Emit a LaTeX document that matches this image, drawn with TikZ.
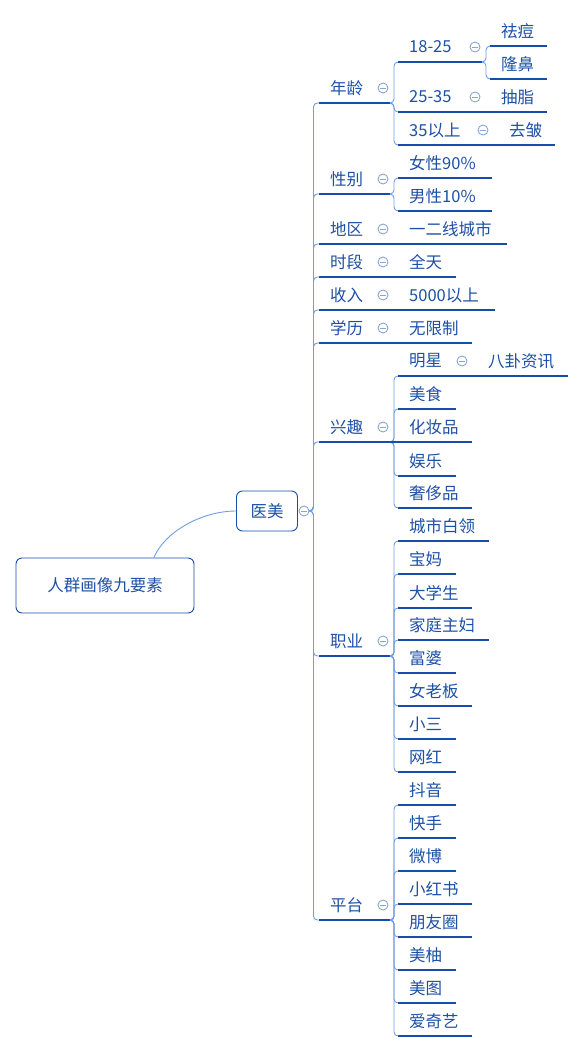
\documentclass[tikz,border=0pt]{standalone}
\usepackage{fontspec}
\setmainfont{Noto Sans CJK SC}
\usepackage{tikz}
\tikzset{>=latex}
\definecolor{linkblue}{RGB}{112,158,226}
\definecolor{lineblue}{RGB}{20,78,170}
\definecolor{textblue}{RGB}{30,80,165}
\definecolor{foldblue}{RGB}{138,165,212}

\begin{document}
\begin{tikzpicture}[x=1pt,y=-1pt,
    box/.style={draw=lineblue,rounded corners=6pt,line width=0.9pt,text=textblue,inner sep=0pt},
    word/.style={text=textblue,inner sep=0pt},
    uline/.style={draw=lineblue,line width=1.1pt},
    conn/.style={draw=linkblue,line width=0.9pt,rounded corners=4pt},
    elbow/.style={to path={-- ++(4,0) |- (\tikztotarget)}},
    fold/.style={circle,draw=foldblue,line width=0.9pt,minimum size=10pt,inner sep=0pt,fill=white,
      path picture={\draw[foldblue,line width=0.9pt]
        ([xshift=-2.8pt]path picture bounding box.center) -- ([xshift=2.8pt]path picture bounding box.center);}}]
  \fontsize{16.5}{20}\selectfont
  \useasboundingbox (0,0) rectangle (585,1052);

  % HELP FUNCTION
  \def\topic(#1,#2,#3,#4,#5){ % name, x left, y line, x right, label
    \coordinate (#1-l) at (#2,#3);
    \coordinate (#1-r) at (#4,#3);
    \draw[uline] (#1-l) -- (#1-r);
    \node[word,anchor=west] (#1) at (#2+11,#3-15) {#5};
  }
  \def\fold(#1){\node[fold] (#1-f) at ([shift={(-7,-15)}]#1-r) {};}

  % ROOT
  \node[box,minimum width=178pt,minimum height=55pt] (root) at (105,585.5) {人群画像九要素};
  \node[box,minimum width=61pt,minimum height=40pt] (yimei) at (267,511) {医美};
  \draw[conn] ([xshift=49pt]root.north) .. controls +(10,-25) and +(-35,0) .. (yimei.west);

  % FIRST LEVEL
  \topic(age,319,103,390,年龄)
  \topic(sex,319,194,390,性别)
  \topic(area,319,244,390,地区)
  \topic(time,319,277,390,时段)
  \topic(inc,319,310,390,收入)
  \topic(edu,319,343,390,学历)
  \topic(hob,319,442,390,兴趣)
  \topic(job,319,656,390,职业)
  \topic(plat,319,920,390,平台)

  % AGE
  \topic(a1,398,62,482,18-25)
  \topic(a2,398,112,482,25-35)
  \topic(a3,398,145,490,35以上)
  \topic(a11,490,46,547,祛痘)
  \topic(a12,490,79,547,隆鼻)
  \topic(a21,490,112,547,抽脂)
  \topic(a31,498,145,555,去皱)

  % SEX, AREA, TIME, INCOME, EDUCATION
  \topic(s1,398,178,492,女性90\%)
  \topic(s2,398,211,492,男性10\%)
  \topic(r1,398,244,507,一二线城市)
  \topic(t1,398,277,456,全天)
  \topic(i1,398,310,495,5000以上)
  \topic(e1,398,343,472,无限制)

  % HOBBY
  \topic(h1,398,376,469,明星)
  \topic(h11,477,376,568,八卦资讯)
  \topic(h2,398,409,456,美食)
  \topic(h3,398,442,472,化妆品)
  \topic(h4,398,476,456,娱乐)
  \topic(h5,398,508,472,奢侈品)

  % JOB
  \topic(j1,398,541,489,城市白领)
  \topic(j2,398,574,456,宝妈)
  \topic(j3,398,608,472,大学生)
  \topic(j4,398,640,489,家庭主妇)
  \topic(j5,398,673,456,富婆)
  \topic(j6,398,706,472,女老板)
  \topic(j7,398,739,456,小三)
  \topic(j8,398,772,456,网红)

  % PLATFORM
  \topic(p1,398,805,456,抖音)
  \topic(p2,398,838,456,快手)
  \topic(p3,398,871,456,微博)
  \topic(p4,398,904,472,小红书)
  \topic(p5,398,937,472,朋友圈)
  \topic(p6,398,970,456,美柚)
  \topic(p7,398,1003,456,美图)
  \topic(p8,398,1036,472,爱奇艺)

  % LINKS
  \node[fold] (yimei-f) at (304,511) {};
  \foreach \c in {age,sex,area,time,inc,edu,hob,job,plat}
    \draw[conn] (yimei-f.east) to[elbow] (\c-l);
  \foreach \c in {a1,a2,a3}
    \draw[conn] (age-r) to[elbow] (\c-l);
  \foreach \c in {a11,a12}
    \draw[conn] (a1-r) to[elbow] (\c-l);
  \foreach \c in {s1,s2}
    \draw[conn] (sex-r) to[elbow] (\c-l);
  \foreach \c in {h1,h2,h4,h5}
    \draw[conn] (hob-r) to[elbow] (\c-l);
  \foreach \i in {1,...,8}{
    \draw[conn] (job-r) to[elbow] (j\i-l);
    \draw[conn] (plat-r) to[elbow] (p\i-l);
  }
  \draw[uline] (hob-r) -- (h3-l);
  \draw[uline] (a2-r) -- (a21-l);
  \draw[uline] (a3-r) -- (a31-l);
  \draw[uline] (h1-r) -- (h11-l);
  \foreach \c/\d in {area/r1,time/t1,inc/i1,edu/e1}
    \draw[uline] (\c-r) -- (\d-l);

  % FOLD MARKS
  \foreach \c in {age,sex,area,time,inc,edu,hob,job,plat,a1,a2,a3,h1}{
    \fold(\c)
  }

\end{tikzpicture}
\end{document}
